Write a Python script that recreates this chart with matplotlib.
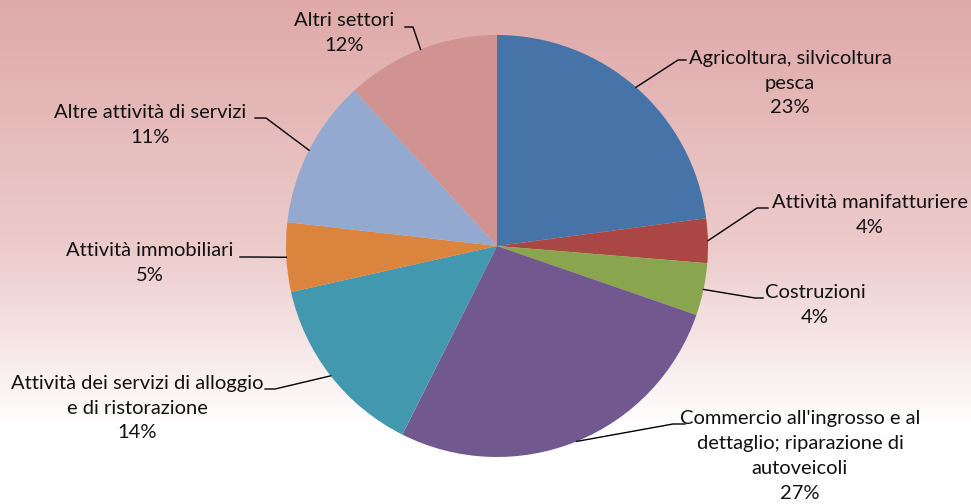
import numpy as np
import matplotlib.pyplot as plt
from matplotlib.colors import LinearSegmentedColormap

# dati (settori in senso orario dalle ore 12)
settori = [
    "Agricoltura, silvicoltura\npesca",
    "Attività manifatturiere",
    "Costruzioni",
    "Commercio all'ingrosso e al\ndettaglio; riparazione di\nautoveicoli",
    "Attività dei servizi di alloggio\ne di ristorazione",
    "Attività immobiliari",
    "Altre attività di servizi",
    "Altri settori",
]
quote = [22.9, 3.4, 4.0, 27.1, 14.1, 5.3, 11.4, 11.8]
etichette_pct = ["23%", "4%", "4%", "27%", "14%", "5%", "11%", "12%"]
colori = ["#4673A8", "#AA4744", "#89A54E", "#71598F", "#4298AF",
          "#DB843D", "#93A9CF", "#D19392"]

# posizione del testo (centro, pixel dall'alto) e gomito della linea guida
pos_testo = [(790, 83), (870, 215), (815, 305), (800, 456),
             (137, 408), (150, 263), (150, 125), (344, 33)]
gomiti = [(686, 678, 60), (768, 757, 208), (763, 755, 298), (685, 673, 424),
          (265, 275, 389), (240, 250, 257), (255, 266, 118), (405, 413, 27)]

W, H = 971, 504
fig = plt.figure(figsize=(W / 100, H / 100), dpi=100)
ax = fig.add_axes([0, 0, 1, 1])

# sfondo sfumato rosa -> bianco (dall'alto verso il basso)
cmap = LinearSegmentedColormap.from_list(
    "sf", [(0, "#DFA9A9"), (0.5, "#EDCCCC"), (0.85, "#FFFFFF"), (1, "#FFFFFF")])
grad = np.linspace(0, 1, 256).reshape(-1, 1)
ax.imshow(grad, cmap=cmap, extent=[0, W, 0, H], aspect="auto", zorder=0, origin="upper")

cx, cy, r = 497, H - 246, 211
wedges, _ = ax.pie(quote, colors=colori, startangle=90, counterclock=False,
                   center=(cx, cy), radius=r, frame=True)
for w in wedges:
    w.set_zorder(2)
ax.set_xlim(0, W)
ax.set_ylim(0, H)
ax.set_aspect("equal")
ax.axis("off")

plt.rcParams["font.family"] = ["Lato", "DejaVu Sans"]
for w, nome, pct, (tx, ty), (x0, x1, gy) in zip(wedges, settori, etichette_pct, pos_testo, gomiti):
    ang = np.deg2rad((w.theta1 + w.theta2) / 2)
    ex, ey = cx + r * np.cos(ang), cy + r * np.sin(ang)
    ax.plot([x0, x1, ex], [H - gy, H - gy, ey], color="black", lw=1, zorder=3)
    ax.text(tx, H - ty, nome + "\n" + pct, ha="center", va="center",
            fontsize=14.5, linespacing=1.55, color="#111111", zorder=4)

fig.savefig("out.png", dpi=100)
